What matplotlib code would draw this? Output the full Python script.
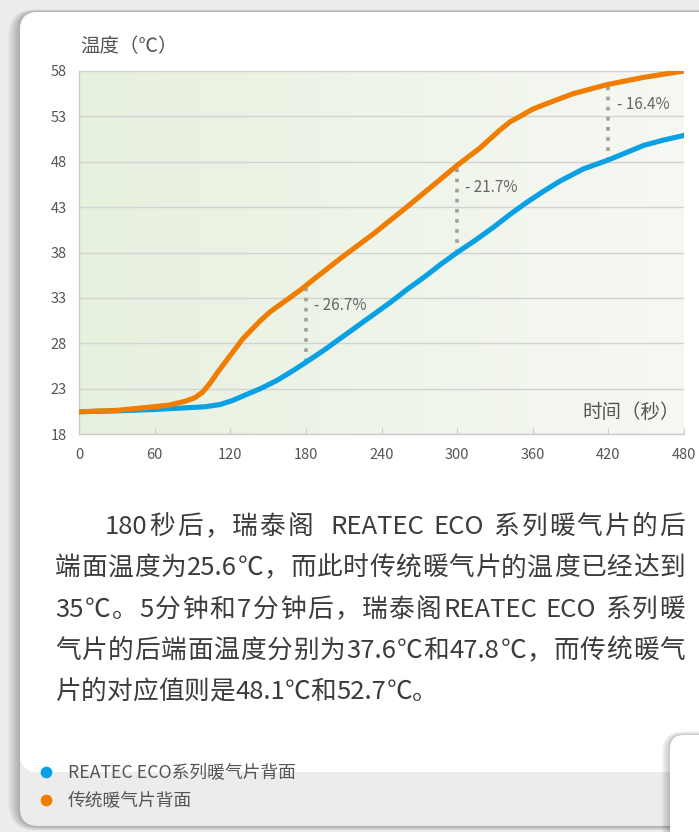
import re
import numpy as np
import matplotlib
matplotlib.use('Agg')
import matplotlib.pyplot as plt
from matplotlib.patches import FancyBboxPatch, Rectangle
from matplotlib.colors import LinearSegmentedColormap
from matplotlib.font_manager import FontProperties

plt.rcParams['font.family'] = ['Noto Sans CJK SC', 'DejaVu Sans']

# Data
t_eco = [0, 30, 60, 100, 112, 122, 132, 144, 157, 170, 180, 194, 207, 220, 234, 247,
         260, 274, 287, 300, 315, 329, 342, 355, 368, 382, 400, 420, 434, 448, 464, 480]
eco = [20.45, 20.55, 20.7, 21.0, 21.25, 21.7, 22.3, 23.0, 23.9, 25.0, 25.9, 27.2, 28.5,
       29.8, 31.2, 32.5, 33.9, 35.3, 36.7, 38.0, 39.4, 40.8, 42.2, 43.5, 44.7, 45.9,
       47.2, 48.2, 49.0, 49.8, 50.4, 50.9]

t_trad = [0, 30, 59, 72, 84, 92, 98, 104, 110, 117, 130, 144, 152, 160, 168, 176, 184,
          207, 234, 260, 287, 300, 318, 334, 342, 350, 360, 371, 392, 419, 448, 480]
trad = [20.45, 20.6, 21.0, 21.2, 21.6, 22.0, 22.6, 23.6, 24.8, 26.1, 28.5, 30.5, 31.5,
        32.3, 33.1, 33.9, 34.8, 37.3, 40.1, 43.0, 46.1, 47.6, 49.5, 51.5, 52.4, 53.0,
        53.8, 54.4, 55.5, 56.5, 57.3, 58.0]

gap_t = [180, 300, 420]
gap_lo = [25.9, 38.0, 48.1]
gap_hi = [34.2, 47.4, 56.3]
gap_labels = ['- 26.7%', '- 21.7%', '- 16.4%']

x_ticks = [0, 60, 120, 180, 240, 300, 360, 420, 480]
y_ticks = [18, 23, 28, 33, 38, 43, 48, 53, 58]

legend_names = ['REATEC ECO系列暖气片背面', '传统暖气片背面']

paragraph = [
    '180秒后，瑞泰阁  REATEC ECO 系列暖气片的后',
    '端面温度为25.6℃，而此时传统暖气片的温度已经达到',
    '35℃。5分钟和7分钟后，瑞泰阁REATEC ECO 系列暖',
    '气片的后端面温度分别为37.6℃和47.8℃，而传统暖气',
    '片的对应值则是48.1℃和52.7℃。',
]

BLUE = '#0aa1e4'
ORANGE = '#f07d00'

W, H = 699, 832
fig = plt.figure(figsize=(W / 100, H / 100), dpi=100)
fig.patch.set_facecolor('#ededed')

# page background in pixel coordinates
bg = fig.add_axes([0, 0, 1, 1])
bg.set_xlim(0, W)
bg.set_ylim(H, 0)
bg.axis('off')

# card shadow
for i in range(10):
    bg.add_patch(FancyBboxPatch((20 - i * 1.3, 12 - i * 0.3), 760, 814 + i * 0.8,
                                boxstyle='round,pad=0,rounding_size=%d' % (18 + i),
                                fc='black', ec='none', alpha=0.03))
# card: grey legend band + white body
bg.add_patch(FancyBboxPatch((20, 12), 760, 814, boxstyle='round,pad=0,rounding_size=18',
                            fc='#ececec', ec='none'))
bg.add_patch(FancyBboxPatch((20, 12), 760, 760, boxstyle='round,pad=0,rounding_size=18',
                            fc='white', ec='none'))
bg.add_patch(Rectangle((20, 700), 760, 52, fc='white', ec='none'))

# second card peeking in at the bottom right
for i in range(8):
    bg.add_patch(FancyBboxPatch((670 - i * 1.2, 735 - i * 0.5), 100, 200,
                                boxstyle='round,pad=0,rounding_size=%d' % (14 + i),
                                fc='black', ec='none', alpha=0.03))
bg.add_patch(FancyBboxPatch((670, 735), 100, 200, boxstyle='round,pad=0,rounding_size=14',
                            fc='white', ec='none'))

# legend
for yy, name, c in zip([772, 800], legend_names, [BLUE, ORANGE]):
    bg.scatter([46], [yy], s=55, color=c, zorder=5)
    bg.text(68, yy, name, fontsize=12.8, color='#555555', va='center', ha='left')

# paragraph, justified to the right edge like the reference
# latin words and numbers stay together, extra space goes between tokens
renderer = fig.canvas.get_renderer()
prop = FontProperties(family=['Noto Sans CJK SC', 'DejaVu Sans'], size=18.5)
right_edge = 685
for i, line in enumerate(paragraph):
    x0 = 105 if i == 0 else 55
    y0 = 527 + i * 41.3
    tokens = re.findall(r'[A-Za-z0-9.%]+|.', line)
    widths = []
    for tok in tokens:
        if tok == ' ':
            widths.append(renderer.get_text_width_height_descent('a a', prop, ismath=False)[0]
                          - renderer.get_text_width_height_descent('aa', prop, ismath=False)[0])
        else:
            widths.append(renderer.get_text_width_height_descent(tok, prop, ismath=False)[0])
    gap = 0
    if i < len(paragraph) - 1:
        gap = (right_edge - x0 - sum(widths)) / (len(tokens) - 1)
    x = x0
    for tok, w in zip(tokens, widths):
        if tok != ' ':
            bg.text(x, y0, tok, fontproperties=prop, color='#3c3c3c', va='center', ha='left')
        x += w + gap

# chart
ax = fig.add_axes([79 / W, 1 - 434 / H, 605 / W, 363 / H])
cmap = LinearSegmentedColormap.from_list('bg', ['#e7f1df', '#f6f8f3'])
ax.imshow(np.linspace(0, 1, 256)[None, :], cmap=cmap, extent=[0, 480, 18, 58],
          aspect='auto', zorder=0)
ax.set_xlim(0, 480)
ax.set_ylim(18, 58)

ax.set_yticks(y_ticks)
ax.set_xticks(x_ticks)
ax.yaxis.grid(True, color='#d2d2d2', lw=1)
ax.set_axisbelow(True)
for s in ['top', 'right']:
    ax.spines[s].set_visible(False)
for s in ['left', 'bottom']:
    ax.spines[s].set_color('#cccccc')
    ax.spines[s].set_linewidth(1)
ax.tick_params(axis='x', direction='in', length=4, color='#cccccc', pad=10,
               labelsize=10.5, labelcolor='#555555')
ax.tick_params(axis='y', length=0, pad=9, labelsize=10.5, labelcolor='#555555')

ax.plot(t_eco, eco, color=BLUE, lw=3.7, solid_capstyle='round', solid_joinstyle='round', zorder=4)
ax.plot(t_trad, trad, color=ORANGE, lw=3.7, solid_capstyle='round', solid_joinstyle='round', zorder=4)

for t, lo, hi, lab in zip(gap_t, gap_lo, gap_hi, gap_labels):
    ax.plot([t, t], [lo, hi], color='#a0a0a0', lw=2.6, linestyle=(0, (1, 1.8)),
            dash_capstyle='butt', zorder=3)
    ax.annotate(lab, xy=(t, lo + 0.76 * (hi - lo)), xytext=(6, 0), textcoords='offset points',
                va='center', ha='left', fontsize=11, color='#666666')

ax.text(0.993, 0.058, '时间（秒）', transform=ax.transAxes, ha='right', va='center',
        fontsize=14, color='#555555')
fig.text(80 / W, 1 - 47 / H, '温度（℃）', ha='left', va='center', fontsize=14, color='#555555')

fig.savefig('out.png', dpi=100, facecolor=fig.get_facecolor())
